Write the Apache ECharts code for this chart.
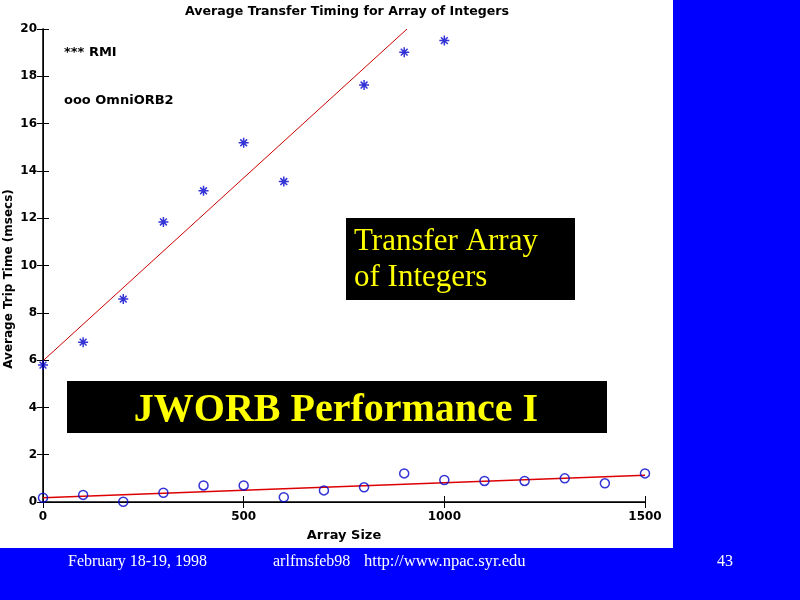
<!DOCTYPE html>
<html><head><meta charset="utf-8">
<script src="https://cdn.jsdelivr.net/npm/echarts@6/dist/echarts.min.js"></script>
<style>html,body{margin:0;padding:0;background:#0000ff}#c{width:800px;height:600px}</style>
</head><body><div id="c"></div>
<script>
const arraySizes = [0,100,200,300,400,500,600,700,800,900,1000,1100,1200,1300,1400,1500];
const rmiX = [0,100,200,300,400,500,600,800,900,1000];
const rmiY = [5.79,6.76,8.58,11.84,13.16,15.19,13.55,17.63,19.02,19.51];
const omniY = [0.18,0.30,0.01,0.39,0.70,0.70,0.20,0.49,0.62,1.21,0.93,0.89,0.89,1.00,0.79,1.21];
const rmiFitX = [0,907];
const rmiFitY = [5.97,20];
const omniFitX = [0,1500];
const omniFitY = [0.18,1.13];
const xTicks = [0,500,1000,1500];
const yTicks = [0,2,4,6,8,10,12,14,16,18,20];

const zip = (a,b)=>a.map((v,i)=>[v,b[i]]);
const star = 'path://M5,0L5,10M0,5L10,5M1.6,1.6L8.4,8.4M8.4,1.6L1.6,8.4';
const SANS = 'DejaVu Sans';
const lbl = {fontFamily:SANS,fontWeight:'bold',fontSize:11,color:'#000'};

const chart = echarts.init(document.getElementById('c'));
chart.setOption({
  animation:false,
  backgroundColor:'#0000ff',
  graphic:[
    {type:'rect',z:-10,shape:{x:0,y:0,width:673,height:548},style:{fill:'#fff'}},
    {type:'text',x:347,y:12,style:{text:'Average Transfer Timing for Array of Integers',fontFamily:SANS,fontWeight:'bold',fontSize:12.6,fill:'#000',align:'center',verticalAlign:'middle'}},
    {type:'text',x:64,y:53,style:{text:'*** RMI',fontFamily:SANS,fontWeight:'bold',fontSize:13,fill:'#000',verticalAlign:'middle'}},
    {type:'text',x:64,y:101,style:{text:'ooo OmniORB2',fontFamily:SANS,fontWeight:'bold',fontSize:13,fill:'#000',verticalAlign:'middle'}},
    {type:'text',x:9,y:279,rotation:Math.PI/2,style:{text:'Average Trip Time (msecs)',fontFamily:SANS,fontWeight:'bold',fontSize:12,fill:'#000',align:'center',verticalAlign:'middle'}},
    {type:'rect',z:50,shape:{x:346,y:218,width:229,height:82},style:{fill:'#000'}},
    {type:'text',z:51,x:354,y:260,style:{text:'Transfer Array\nof Integers',fontFamily:'Liberation Serif',fontSize:31,lineHeight:36,fill:'#ffff00',verticalAlign:'middle'}},
    {type:'rect',z:50,shape:{x:67,y:381,width:540,height:52},style:{fill:'#000'}},
    {type:'text',z:51,x:336,y:411,style:{text:'JWORB Performance I',fontFamily:'Liberation Serif',fontWeight:'bold',fontSize:40,fill:'#ffff00',align:'center',verticalAlign:'middle'}},
    {type:'text',x:68,y:562,style:{text:'February 18-19, 1998',fontFamily:'Liberation Serif',fontSize:16,fill:'#fff',verticalAlign:'middle'}},
    {type:'text',x:273,y:562,style:{text:'arlfmsfeb98',fontFamily:'Liberation Serif',fontSize:16,fill:'#fff',verticalAlign:'middle'}},
    {type:'text',x:364,y:562,style:{text:'http://www.npac.syr.edu',fontFamily:'Liberation Serif',fontSize:16.6,fill:'#fff',verticalAlign:'middle'}},
    {type:'text',x:717,y:562,style:{text:'43',fontFamily:'Liberation Serif',fontSize:16,fill:'#fff',verticalAlign:'middle'}}
  ],
  grid:{left:43,right:155,top:29,bottom:98,containLabel:false,outerBoundsMode:'none'},
  xAxis:[
    {type:'value',min:0,max:1500,interval:500,position:'bottom',
     name:'Array Size',nameLocation:'middle',nameGap:27,nameTextStyle:{...lbl,fontSize:13},
     axisLine:{lineStyle:{color:'#000',width:1}},axisTick:{inside:true,length:6,lineStyle:{color:'#000'}},
     axisLabel:{...lbl,fontSize:12,margin:9,formatter:v=>String(v)},splitLine:{show:false}},
    {type:'value',min:0,max:1500,interval:500,position:'top',
     axisLine:{show:true,lineStyle:{color:'#000',width:1.5}},axisTick:{inside:true,length:6,lineStyle:{color:'#000'}},
     axisLabel:{show:false},splitLine:{show:false}}
  ],
  yAxis:[
    {type:'value',min:0,max:20,interval:2,position:'left',
     axisLine:{show:true,lineStyle:{color:'#000',width:1}},axisTick:{show:true,inside:true,length:6,lineStyle:{color:'#000'}},
     axisLabel:{...lbl,fontSize:12,margin:6,formatter:v=>String(v)},splitLine:{show:false}},
    {type:'value',min:0,max:20,interval:2,position:'right',
     axisLine:{show:true,lineStyle:{color:'#000',width:1.5}},axisTick:{show:true,inside:true,length:6,lineStyle:{color:'#000'}},
     axisLabel:{show:false},splitLine:{show:false}}
  ],
  series:[
    {name:'RMI fit',type:'line',data:zip(rmiFitX,rmiFitY),showSymbol:false,lineStyle:{color:'#cc0000',width:1},z:3},
    {name:'OmniORB2 fit',type:'line',data:zip(omniFitX,omniFitY),showSymbol:false,lineStyle:{color:'#dd0000',width:1.5},z:3},
    {name:'RMI',type:'scatter',data:zip(rmiX,rmiY),symbol:star,symbolSize:10,
     itemStyle:{color:'#0000cc',borderColor:'#0000cc',borderWidth:1.5},z:4},
    {name:'OmniORB2',type:'scatter',data:zip(arraySizes,omniY),symbol:'circle',symbolSize:9,
     itemStyle:{color:'rgba(0,0,0,0)',borderColor:'#0000cc',borderWidth:1.5},z:4}
  ]
});
</script></body></html>
